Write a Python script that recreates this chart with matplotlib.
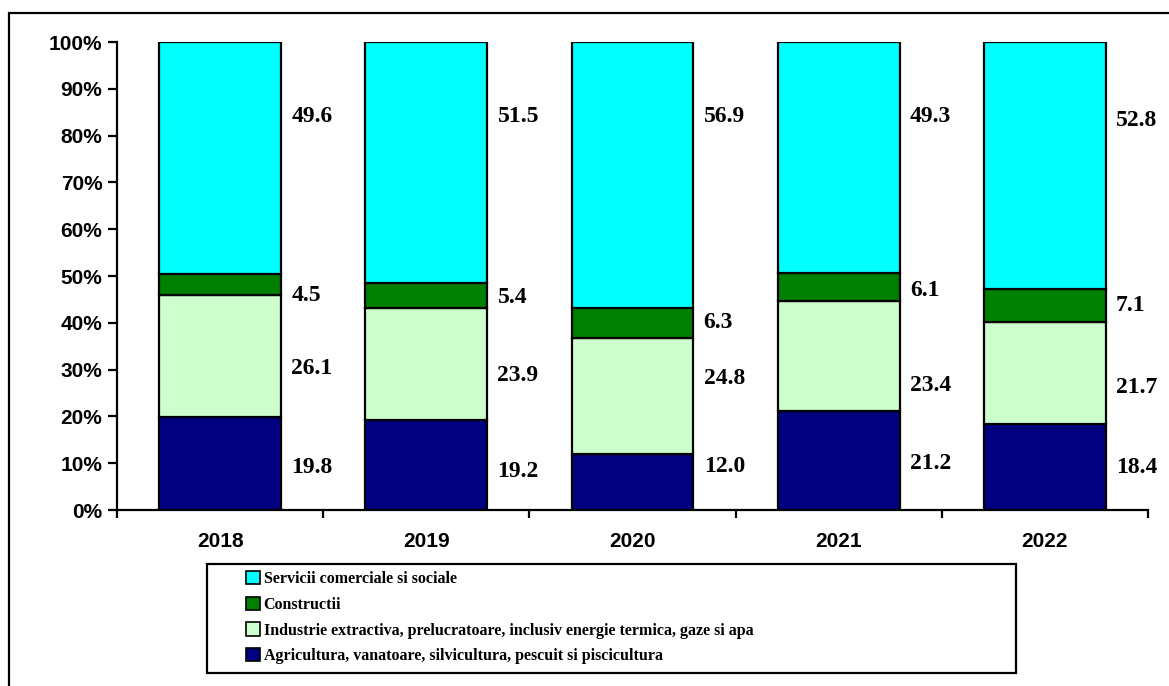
import matplotlib.pyplot as plt
from matplotlib.patches import Rectangle, Patch
import numpy as np

years = ["2018", "2019", "2020", "2021", "2022"]
agricultura = [19.8, 19.2, 12.0, 21.2, 18.4]
industrie = [26.1, 23.9, 24.8, 23.4, 21.7]
constructii = [4.5, 5.4, 6.3, 6.1, 7.1]
servicii = [49.6, 51.5, 56.9, 49.3, 52.8]

series_names = [
    "Agricultura, vanatoare, silvicultura, pescuit si piscicultura",
    "Industrie extractiva, prelucratoare, inclusiv energie termica, gaze si apa",
    "Constructii",
    "Servicii comerciale si sociale",
]
colors = ["#000080", "#CCFFCC", "#008000", "#00FFFF"]

# where the value labels sit (in % of axis height), as in the original
label_y = [
    [9.0, 8.3, 9.4, 10.0, 9.0],
    [30.3, 28.8, 28.2, 26.7, 26.1],
    [45.9, 45.5, 40.0, 47.0, 43.8],
    [84.0, 84.0, 84.0, 84.0, 83.2],
]

W, H = 1169, 686
fig = plt.figure(figsize=(W / 100, H / 100), dpi=100)
ax = fig.add_axes([117 / W, (H - 510) / H, (1148 - 117) / W, 468 / H])

data = [agricultura, industrie, constructii, servicii]
x = np.arange(len(years))
bw = 0.59
bottom = np.zeros(len(years))
for vals, col in zip(data, colors):
    v = np.array(vals)
    pct = v / np.sum(data, axis=0) * 100
    ax.bar(x, pct, bw, bottom=bottom, color=col, edgecolor="black", linewidth=1.6, zorder=2)
    bottom += pct

for vals, ys in zip(data, label_y):
    for i, (v, yy) in enumerate(zip(vals, ys)):
        ax.text(i + bw / 2 + 0.05, yy, f"{v:.1f}", ha="left", va="center",
                fontsize=17, fontweight="bold", family="Liberation Serif")

ax.set_xlim(-0.5, len(years) - 0.5)
ax.set_ylim(0, 100)
ax.set_yticks(np.arange(0, 101, 10))
ax.set_yticklabels([f"{t}%" for t in range(0, 101, 10)])
ax.set_xticks(np.arange(-0.5, len(years), 1))
ax.set_xticklabels([])
ax.set_xticks(x, minor=True)
ax.set_xticklabels(years, minor=True)

for s in ["top", "right"]:
    ax.spines[s].set_visible(False)
for s in ["left", "bottom"]:
    ax.spines[s].set_linewidth(1.6)

ax.tick_params(axis="y", direction="out", length=6.5, width=1.6, pad=4)
ax.tick_params(axis="x", which="major", direction="out", length=5.5, width=1.6)
ax.tick_params(axis="x", which="minor", length=0, pad=16)
for lab in ax.get_yticklabels() + ax.get_xticklabels(minor=True):
    lab.set_fontsize(15)
    lab.set_fontweight("bold")
    lab.set_family("Liberation Sans")

# legend box
fig.patches.append(Rectangle((207 / W, 1 - 673 / H), (1016 - 207) / W, (673 - 564) / H,
                             transform=fig.transFigure, fill=False, edgecolor="black",
                             linewidth=1.6))
handles = [Patch(facecolor=c, edgecolor="black", linewidth=1.2) for c in colors[::-1]]
fig.legend(handles, series_names[::-1], loc="upper left",
           bbox_to_anchor=(246 / W, 1 - 571 / H), frameon=False,
           prop={"family": "Liberation Serif", "weight": "bold", "size": 11.5},
           handlelength=0.9, handleheight=0.9, handletextpad=0.2,
           labelspacing=0.6, borderpad=0, borderaxespad=0)

# outer frame
fig.patches.append(Rectangle((9 / W, -0.05), 1.1, 1 - 13 / H + 0.05,
                             transform=fig.transFigure, fill=False, edgecolor="black",
                             linewidth=1.6))

plt.savefig("out.png", dpi=100)
